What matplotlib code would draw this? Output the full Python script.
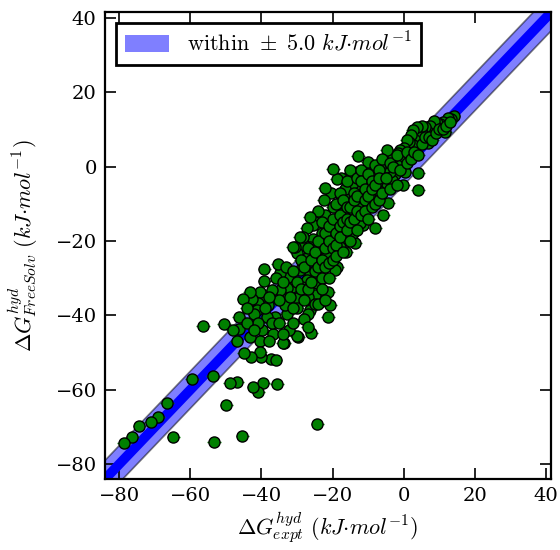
import numpy as np
import matplotlib
matplotlib.use("Agg")
import matplotlib.pyplot as plt
from matplotlib.patches import Rectangle

plt.rcParams['font.family'] = 'serif'
plt.rcParams['font.serif'] = ['DejaVu Serif']
plt.rcParams['mathtext.fontset'] = 'cm'
plt.rcParams['axes.unicode_minus'] = True

# (experimental, FreeSolv calculated) hydration free energies, kJ/mol
pairs = [
    (14.0, 13.5), (13.2, 12.8), (12.5, 13.1), (11.6, 9.3), (11.0, 12.0), (10.2, 11.5),
    (9.4, 11.8), (9.0, 10.5), (8.5, 12.2), (8.0, 10.0), (7.5, 11.0), (6.8, 6.4),
    (6.5, 9.5), (6.0, 10.5), (5.2, 9.1), (5.0, 10.8), (4.5, 8.0), (4.0, -1.7),
    (4.0, -6.3), (3.8, 10.5), (3.2, 7.0), (2.6, 9.9), (2.6, 5.8), (2.0, 8.5),
    (1.5, 6.5), (0.9, 7.2), (0.5, 3.5), (0.4, -1.4), (0.0, 5.0), (-0.2, -4.9),
    (-0.5, 2.0), (-1.0, 4.5), (-1.6, 3.7), (-2.0, 0.5), (-2.5, -2.0), (-3.0, 2.5),
    (-3.3, -3.6), (-3.8, -1.4), (-4.4, -9.8), (-4.7, 4.5), (-5.0, 0.0), (-5.5, -5.0),
    (-5.8, 1.0), (-5.8, -13.0), (-6.3, -2.5), (-6.6, 0.0), (-7.0, -6.5), (-7.5, -4.1),
    (-8.0, -2.8), (-8.0, -16.5), (-8.5, -8.0), (-9.0, -1.0), (-9.5, 0.0), (-9.5, -8.2),
    (-10.0, 1.3), (-10.0, -5.5), (-10.5, -11.0), (-11.0, -2.0), (-11.4, -3.6), (-11.5, -15.7),
    (-12.0, -7.0), (-12.3, -10.3), (-12.3, -15.2), (-12.8, 2.9), (-13.1, -1.4), (-13.5, -5.0),
    (-13.7, -20.5), (-14.2, -4.4), (-14.2, -17.8), (-14.5, -12.0), (-15.0, -8.0), (-15.5, -2.5),
    (-15.9, -8.2), (-16.2, -23.0), (-16.5, -19.2), (-16.5, -6.0), (-17.0, -12.5), (-17.0, -19.2),
    (-17.5, -3.0), (-17.9, -21.6), (-18.0, -9.5), (-18.7, -3.3), (-18.7, -27.0), (-19.0, -14.0),
    (-19.3, -27.8), (-19.9, -0.6), (-20.0, -11.0), (-20.1, -16.5), (-20.1, -18.4), (-20.5, -7.0),
    (-20.7, -37.2), (-21.3, -33.7), (-21.3, -40.4), (-21.5, -23.2), (-22.0, -13.0), (-22.1, -5.7),
    (-22.5, -9.0), (-22.9, -17.8), (-23.0, -20.5), (-23.5, -36.4), (-24.0, -12.0), (-24.4, -24.6),
    (-24.4, -31.3), (-24.9, -34.5), (-25.0, -15.0), (-25.5, -15.7), (-25.5, -19.5), (-26.0, -44.7),
    (-26.3, -13.5), (-26.3, -21.6), (-26.3, -28.6), (-26.3, -38.6), (-26.9, -35.1), (-26.9, -39.6),
    (-27.2, -16.5), (-27.2, -24.6), (-27.2, -30.5), (-28.0, -21.0), (-28.3, -18.9), (-28.6, -32.4),
    (-29.1, -18.9), (-29.1, -27.8), (-29.1, -35.9), (-29.7, -45.8), (-30.0, -23.2), (-30.0, -35.3),
    (-30.0, -38.0), (-30.0, -45.6), (-30.5, -21.6), (-31.1, -21.6), (-31.4, -32.4), (-32.2, -43.9),
    (-32.5, -29.7), (-32.8, -32.6), (-32.8, -39.6), (-33.1, -35.3), (-33.3, -37.2), (-33.6, -47.4),
    (-33.9, -47.4), (-34.7, -28.6), (-34.7, -33.2), (-35.3, -26.2), (-35.6, -58.5), (-36.2, -40.4),
    (-36.7, -45.0), (-37.0, -33.2), (-37.3, -51.7), (-38.1, -37.2), (-38.4, -40.4), (-39.2, -27.5),
    (-39.2, -30.8), (-39.5, -58.2), (-39.8, -43.9), (-40.1, -35.1), (-40.1, -51.2), (-40.4, -33.7),
    (-40.4, -46.9), (-40.4, -49.9), (-40.9, -36.7), (-40.9, -60.6), (-41.2, -38.6), (-42.1, -39.6),
    (-42.3, -59.3), (-42.6, -35.6), (-42.9, -51.2), (-43.2, -33.7), (-43.2, -45.8), (-45.1, -35.6),
    (-45.4, -72.5), (-46.3, -40.4), (-46.3, -43.7), (-46.8, -57.9), (-48.8, -58.2), (-49.9, -64.1),
    (-50.5, -42.3), (-53.3, -74.1), (-53.6, -56.3), (-56.4, -42.9), (-59.5, -57.1), (-64.8, -72.7),
    (-66.5, -63.6), (-69.1, -67.3), (-71.0, -68.7), (-74.3, -69.8), (-76.3, -72.7), (-78.6, -74.3),
    (-24.3, -69.2),
    (-36.0, -30.0), (-35.0, -36.0), (-34.0, -31.0), (-33.0, -27.0), (-32.0, -35.0), (-31.0, -28.0),
    (-31.0, -38.0), (-30.0, -31.0), (-29.0, -25.0), (-29.0, -33.0), (-28.0, -27.0), (-28.0, -36.0),
    (-27.0, -22.0), (-27.0, -33.0), (-26.0, -25.0), (-26.0, -31.0), (-25.0, -23.0), (-25.0, -28.0),
    (-25.0, -37.0), (-24.0, -20.0), (-24.0, -27.0), (-23.0, -15.0), (-23.0, -25.0), (-23.0, -30.0),
    (-22.0, -18.0), (-22.0, -22.0), (-22.0, -27.0), (-21.0, -16.0), (-21.0, -20.0), (-21.0, -26.0),
    (-21.0, -30.0), (-20.0, -14.0), (-20.0, -22.0), (-20.0, -25.0), (-19.0, -10.0), (-19.0, -18.0),
    (-19.0, -21.0), (-19.0, -24.0), (-18.0, -7.0), (-18.0, -13.0), (-18.0, -16.0), (-18.0, -19.0),
    (-17.0, -9.0), (-17.0, -15.0), (-17.0, -23.0), (-16.0, -4.0), (-16.0, -11.0), (-16.0, -14.0),
    (-16.0, -17.0), (-15.0, -1.0), (-15.0, -11.0), (-15.0, -15.0), (-15.0, -20.0), (-14.0, -7.0),
    (-14.0, -9.0), (-14.0, -14.0), (-13.0, -3.0), (-13.0, -8.0), (-13.0, -12.0), (-13.0, -17.0),
    (-12.0, -1.0), (-12.0, -4.0), (-12.0, -13.0), (-11.0, -6.0), (-11.0, -9.0), (-11.0, -12.0),
    (-10.0, -2.0), (-10.0, -8.0), (-10.0, -14.0), (-9.0, -4.0), (-9.0, -6.0), (-9.0, -11.0),
    (-8.0, 0.5), (-8.0, -5.0), (-8.0, -10.0), (-7.0, -1.0), (-7.0, -3.0), (-7.0, -9.0),
    (-6.0, -7.0), (-6.0, 2.0), (-5.0, -3.0), (-4.0, 1.0), (-4.0, -6.0), (-3.0, 0.0),
    (-2.0, -5.0), (-2.0, 3.0), (-1.0, -1.0), (1.0, 1.0), (1.0, 4.0), (2.0, 2.0),
    (3.0, 4.0), (4.0, 3.0), (5.0, 6.0), (6.0, 8.0), (7.0, 8.0), (8.0, 7.0),
    (9.0, 9.0), (10.0, 10.0), (11.0, 10.0), (12.0, 11.0), (13.0, 12.0), (-37.0, -42.0),
    (-38.0, -35.0), (-39.0, -38.0), (-41.0, -42.0), (-44.0, -38.0), (-44.0, -42.0), (-42.0, -44.0),
    (-38.0, -47.0), (-36.0, -52.0), (-35.0, -42.0), (-34.0, -45.0), (-47.0, -47.0), (-45.0, -50.0),
    (-48.0, -44.0), (-31.0, -42.0), (-28.0, -41.0), (-27.0, -43.0), (-24.0, -37.0), (-23.0, -33.0),
    (-22.0, -36.0),
]
expt = np.array([p[0] for p in pairs])
calc = np.array([p[1] for p in pairs])
expt_err = 1.9
band = 5.0

lims = (-84, 41.5)

fig = plt.figure(figsize=(5.6, 5.5), dpi=100)
ax = fig.add_axes([0.1875, 0.129, 0.797, 0.849])

line = np.linspace(-100, 60, 10)
ax.fill_between(line, line - band, line + band, facecolor='blue', edgecolor='black',
                alpha=0.5, lw=1.2, zorder=1)
ax.plot(line, line, color='blue', lw=7, solid_capstyle='butt', zorder=2)

ax.errorbar(expt, calc, xerr=expt_err, fmt='o', color='green', ecolor='green',
            mec='black', mew=1, ms=8, elinewidth=1, capsize=0, zorder=3)

ax.set_xlim(lims)
ax.set_ylim(lims)
ax.set_xticks(np.arange(-80, 41, 20))
ax.set_yticks(np.arange(-80, 41, 20))
ax.tick_params(direction='in', length=8, width=1.2, top=True, right=True, labelsize=14, pad=6)
for s in ax.spines.values():
    s.set_linewidth(1.6)

ax.set_xlabel(r'$\Delta G^{hyd}_{expt}\ (kJ{\cdot}mol^{-1})$', fontsize=16, labelpad=4)
ax.set_ylabel(r'$\Delta G^{hyd}_{FreeSolv}\ (kJ{\cdot}mol^{-1})$', fontsize=16, labelpad=12)

proxy = Rectangle((0, 0), 1, 1, facecolor='blue', alpha=0.5, edgecolor='none')
leg = ax.legend([proxy], [r'$\mathrm{within}\ \pm\ 5.0\ kJ{\cdot}mol^{-1}$'],
                loc='upper left', fontsize=16, fancybox=False, framealpha=1,
                edgecolor='black', handlelength=2.0, handleheight=0.8, borderaxespad=0.5)
leg.get_frame().set_linewidth(2)

fig.savefig('out.png', dpi=100)
